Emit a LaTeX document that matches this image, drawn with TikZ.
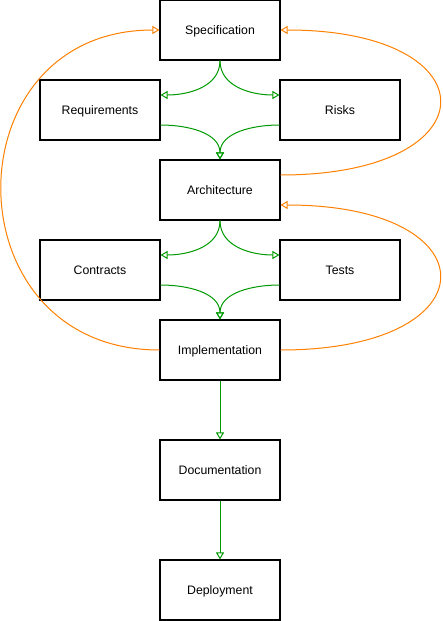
\documentclass[tikz,border=0pt]{standalone}
\usepackage{fontspec}
\setmainfont{Liberation Sans}
\usetikzlibrary{arrows.meta}
\definecolor{flowgreen}{RGB}{0,153,0}
\definecolor{loopor}{RGB}{255,128,0}

\begin{document}
\begin{tikzpicture}[x=1pt,y=-1pt,
  box/.style={draw,line width=1.1pt,fill=white,minimum width=120pt,minimum height=60pt,inner sep=0pt,text height=8.7pt,text depth=0pt,font=\fontsize{12.3}{14}\selectfont},
  flow/.style={draw=flowgreen,line width=1pt,-{Triangle[open,length=7pt,width=8pt]}},
  back/.style={draw=loopor,line width=1pt,-{Triangle[open,length=7pt,width=8pt]}}]
\useasboundingbox (0,0) rectangle (442,621);
%boxar
\node[box] (spec) at (220,30) {Specification};
\node[box] (req) at (100,110) {Requirements};
\node[box] (risk) at (340,110) {Risks};
\node[box] (arch) at (220,190) {Architecture};
\node[box] (contr) at (100,270) {Contracts};
\node[box] (test) at (340,270) {Tests};
\node[box] (impl) at (220,350) {Implementation};
\node[box] (doc) at (220,470) {Documentation};
\node[box] (dep) at (220,590) {Deployment};
%gröna pilar
\draw[flow] (spec.south) to[out=-90,in=0] ([yshift=15pt]req.east);
\draw[flow] (spec.south) to[out=-90,in=180] ([yshift=15pt]risk.west);
\draw[flow] ([yshift=-15pt]req.east) to[out=0,in=90] (arch.north);
\draw[flow] ([yshift=-15pt]risk.west) to[out=180,in=90] (arch.north);
\draw[flow] (arch.south) to[out=-90,in=0] ([yshift=15pt]contr.east);
\draw[flow] (arch.south) to[out=-90,in=180] ([yshift=15pt]test.west);
\draw[flow] ([yshift=-15pt]contr.east) to[out=0,in=90] (impl.north);
\draw[flow] ([yshift=-15pt]test.west) to[out=180,in=90] (impl.north);
\draw[flow] (impl) -- (doc);
\draw[flow] (doc) -- (dep);
%orange återkoppling
\draw[back] (impl.west) .. controls (-51,350) and (-51,30) .. (spec.west);
\draw[back] ([yshift=15pt]arch.east) .. controls (493,175) and (493,30) .. (spec.east);
\draw[back] (impl.east) .. controls (493,350) and (493,205) .. ([yshift=-15pt]arch.east);
\end{tikzpicture}
\end{document}
